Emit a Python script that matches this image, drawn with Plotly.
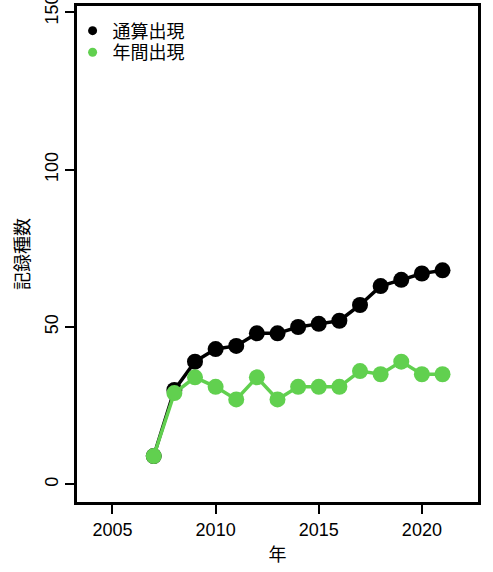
import plotly.graph_objects as go

years = list(range(2007, 2022))
cumulative = [9, 30, 39, 43, 44, 48, 48, 50, 51, 52, 57, 63, 65, 67, 68]
annual = [9, 29, 34, 31, 27, 34, 27, 31, 31, 31, 36, 35, 39, 35, 35]
series_names = ["通算出現", "年間出現"]
colors = ["#000000", "#61D04F"]
x_ticks = [2005, 2010, 2015, 2020]
y_ticks = [0, 50, 100, 150]

FONT = "Liberation Sans, Arial, Noto Sans CJK JP, sans-serif"

fig = go.Figure()
for vals, name, col in zip([cumulative, annual], series_names, colors):
    fig.add_trace(go.Scatter(
        x=years, y=vals, mode="lines+markers", showlegend=False,
        line=dict(color=col, width=3.5),
        marker=dict(color=col, size=16),
    ))
for name, col, lg in zip(series_names, colors, ["legend", "legend2"]):
    fig.add_trace(go.Scatter(
        x=[None], y=[None], mode="markers", name=name, legend=lg,
        marker=dict(color=col, size=9),
    ))

leg_common = dict(xanchor="left", yanchor="top", bgcolor="rgba(0,0,0,0)",
                  font=dict(size=18), itemsizing="trace")

fig.update_layout(
    width=493, height=572,
    margin=dict(l=77, r=15, t=6, b=70, autoexpand=False),
    paper_bgcolor="white", plot_bgcolor="white",
    font=dict(family=FONT, size=18, color="black"),
    legend=dict(x=-0.011, y=0.987, **leg_common),
    legend2=dict(x=-0.011, y=0.9435, **leg_common),
    xaxis=dict(range=[2003.28, 2022.72], tickvals=x_ticks, automargin=True,
               showgrid=False, zeroline=False,
               showline=True, mirror=True, linecolor="black", linewidth=3,
               ticks="outside", ticklen=9, tickwidth=1.5, tickcolor="black",
               tickfont=dict(size=18), ticklabeloverflow="allow",
               title=dict(text="年", font=dict(size=18), standoff=10)),
    yaxis=dict(range=[-5.6, 152], tickvals=y_ticks, automargin=True,
               showgrid=False, zeroline=False,
               showline=True, mirror=True, linecolor="black", linewidth=3,
               ticks="outside", ticklen=9, tickwidth=1.5, tickcolor="black",
               tickangle=-90, tickfont=dict(size=18), ticklabeloverflow="allow",
               title=dict(text="記録種数", font=dict(size=18), standoff=8)),
)

fig.write_html("out.html", config={"displayModeBar": False},
               post_script="document.body.style.margin='0';")
